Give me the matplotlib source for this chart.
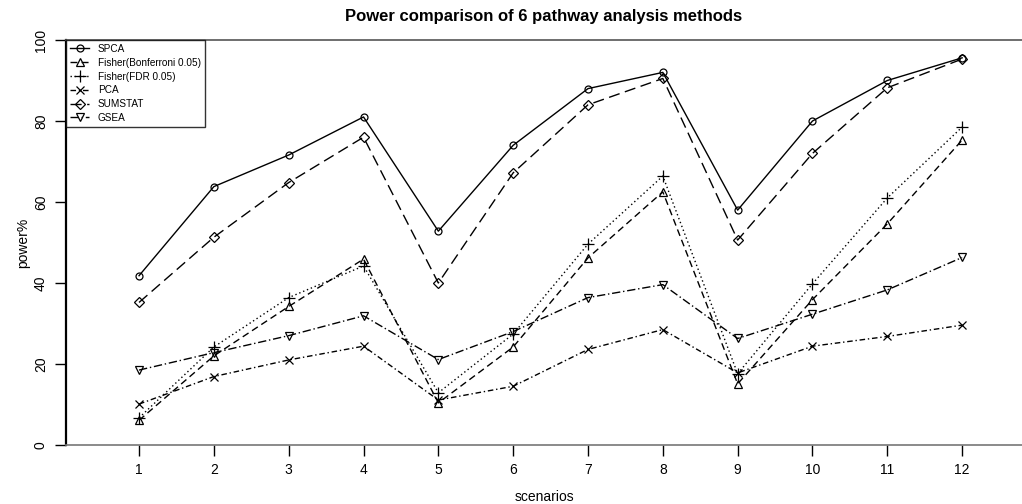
import matplotlib
matplotlib.use('Agg')
from matplotlib import pyplot as plt
import numpy as np

plt.rcParams['font.family'] = ['Liberation Sans', 'DejaVu Sans']

scenarios = np.arange(1, 13)
methods = ['SPCA', 'Fisher(Bonferroni 0.05)', 'Fisher(FDR 0.05)', 'PCA', 'SUMSTAT', 'GSEA']

spca = [41.8, 63.8, 71.6, 81.0, 52.8, 74.0, 88.0, 92.0, 58.0, 80.0, 90.0, 95.6]
bonf = [6.1, 22.0, 34.2, 45.9, 10.4, 24.2, 46.2, 62.5, 15.1, 35.9, 54.6, 75.3]
fdr = [6.7, 24.2, 36.4, 44.2, 12.9, 27.4, 49.6, 66.4, 17.6, 39.8, 61.0, 78.5]
pca = [10.1, 16.9, 21.0, 24.4, 11.1, 14.5, 23.6, 28.5, 17.8, 24.4, 26.8, 29.6]
sumstat = [35.2, 51.3, 64.8, 76.0, 40.0, 67.2, 84.0, 90.5, 50.6, 72.0, 88.2, 95.3]
gsea = [18.5, 22.8, 27.0, 31.9, 21.1, 28.0, 36.4, 39.6, 26.3, 32.3, 38.3, 46.3]

series = [spca, bonf, fdr, pca, sumstat, gsea]
markers = ['o', '^', '+', 'x', 'D', 'v']
msizes = [5, 6, 8, 6, 5, 6]
styles = ['-', (0, (5, 3)), (0, (1, 2)), (0, (4, 2, 1, 2)), (0, (8, 4)), (0, (6, 2, 1, 2))]

fig = plt.figure(figsize=(10.22, 5.04), dpi=100)
ax = fig.add_axes([66 / 1022, 59 / 504, 1 - 66 / 1022, 405 / 504])

for vals, name, m, ms, ls in zip(series, methods, markers, msizes, styles):
    ax.plot(scenarios, vals, color='black', linestyle=ls, linewidth=1.0,
            marker=m, markersize=ms, markerfacecolor='none',
            markeredgecolor='black', markeredgewidth=0.9, label=name)

ax.set_xlim(0.024, 12.8)
ax.set_ylim(0, 100)
ax.set_xticks(scenarios)
ax.set_yticks([0, 20, 40, 60, 80, 100])
ax.tick_params(axis='both', direction='out', length=8, width=1, labelsize=10, pad=5)
for lab in ax.get_yticklabels():
    lab.set_rotation(90)
    lab.set_va('center')

ax.spines['right'].set_visible(False)
ax.spines['left'].set_linewidth(1.6)
ax.spines['top'].set_color('#555555')
ax.spines['bottom'].set_color('#777777')
ax.spines['top'].set_linewidth(1.2)
ax.spines['bottom'].set_linewidth(1.2)

ax.set_title('Power comparison of 6 pathway analysis methods', fontsize=12,
             fontweight='bold', pad=14)
ax.set_xlabel('scenarios', fontsize=10, labelpad=9)
ax.set_ylabel('power%', fontsize=10, labelpad=3)

leg = ax.legend(loc='upper left', bbox_to_anchor=(0, 1), frameon=True,
                fancybox=False, edgecolor='black', handlelength=1.9, borderaxespad=0,
                labelspacing=0.38, handletextpad=0.9, borderpad=0.4,
                prop={'size': 7.2, 'family': ['Liberation Sans']})
leg.get_frame().set_linewidth(1.0)

fig.savefig('out.png', dpi=100)
